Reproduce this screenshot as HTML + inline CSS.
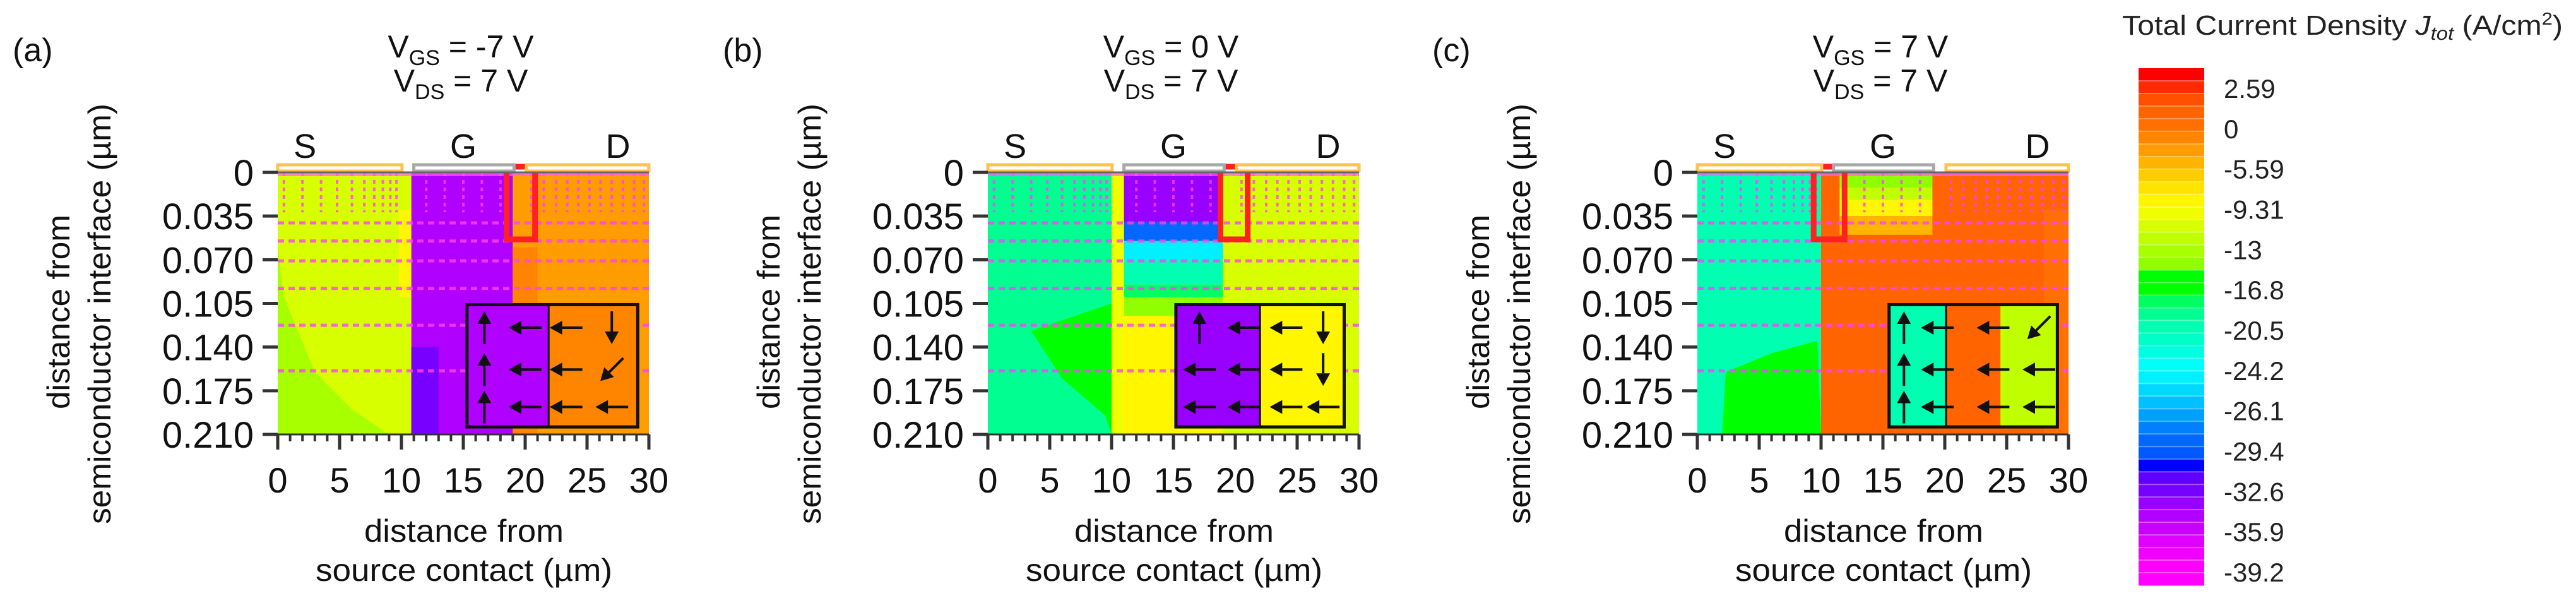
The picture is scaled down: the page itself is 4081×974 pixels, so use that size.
<!DOCTYPE html>
<html><head><meta charset="utf-8"><style>
html,body{margin:0;padding:0;background:#fff;}
svg{display:block;font-family:"Liberation Sans",Arial,sans-serif;}
</style></head><body>
<svg id="fig" width="4081" height="974" viewBox="0 0 4081 974" xmlns="http://www.w3.org/2000/svg"></svg>
<script>
// ---- data ----
const panelLetters = ["(a)", "(b)", "(c)"];
const vgsValues = ["-7", "0", "7"];
const vdsValues = ["7", "7", "7"];
const xTicks = [0, 5, 10, 15, 20, 25, 30];
const yTicks = [0, 0.035, 0.070, 0.105, 0.140, 0.175, 0.210];
const yTickLabels = ["0", "0.035", "0.070", "0.105", "0.140", "0.175", "0.210"];
const cbLabels = ["2.59", "0", "-5.59", "-9.31", "-13", "-16.8", "-20.5", "-24.2", "-26.1", "-29.4", "-32.6", "-35.9", "-39.2"];
const cbColors = ["#ff0000","#ff2a00","#ff5000","#ff6400","#ff7000","#ff8400","#ff9c00","#ffb400","#ffcc00","#ffe400","#fff600","#f0ff00","#d8ff00","#c0ff00","#a8ff00","#90ff00","#00ff00","#00ff00","#00ff60","#00ff90","#00ffb0","#00ffc8","#00ffe0","#00fff8","#00f0ff","#00d8ff","#00c0ff","#00a0ff","#0080ff","#0068ff","#0058ff","#0000ff","#6000ff","#7800ff","#9800ff","#b000ff","#c800ff","#e000ff","#f000ff","#ff00ff","#ff00ff"];
const vMax = 4.34, vMin = -40.35;
// region rects: [x0,x1,y0,y1,value]
const regionsA = [[0,10.8,0,0.21,-9.3],[9.8,10.8,0.03,0.1,-7.1],[10.8,19,0,0.21,-34.4],[10.8,13,0.14,0.21,-32.2],[19,30,0,0.21,-2.7],[19,21,0.06,0.21,-1.7]];
const polysA = [[[0,0.06,0.5,0.1,3,0.16,6,0.19,9,0.21,0,0.21],-11.5]];
const regionsB = [[0,10,0,0.21,-16.9],[10,11,0,0.21,-8.2],[11,19,0,0.21,-7.1],[11,19,0,0.04,-33.3],[11,19,0.04,0.055,-27.8],[11,19,0.055,0.07,-22.3],[11,19,0.07,0.09,-18.0],[11,19,0.09,0.1,-15.8],[11,19,0.1,0.115,-12.6],[19,30,0,0.21,-9.0]];
const polysB = [[[10,0.105,3.5,0.127,6,0.165,9.5,0.195,10,0.21],-13.5]];
const regionsC = [[0,10,0,0.21,-18.0],[10,30,0,0.21,0.5],[11.5,19,0,0.012,-12.6],[11.5,19,0.012,0.022,-10.4],[11.5,19,0.022,0.035,-7.1],[11.5,19,0.035,0.05,-3.8],[28,30,0.03,0.21,-0.6]];
const polysC = [[[2,0.21,2.3,0.16,6,0.145,9.7,0.135,10,0.21],-14.6]];
// inset parts: [x0,x1,value] spanning inset height
const insetA = [[15.3,21.9,-34.4],[21.9,29.1,-1.7]];
const insetB = [[15.2,22.0,-33.3],[22.0,28.8,-7.1]];
const insetC = [[15.5,20.1,-18.0],[20.1,24.5,0.5],[24.5,29.1,-10.4]];
const insetY = [0.106, 0.204];
// arrows: [x, y, direction]
const arrowsA = [[16.7,0.1245,"u"],[20,0.1245,"l"],[23.3,0.1245,"l"],[27,0.1245,"d"],[16.7,0.158,"u"],[20,0.158,"l"],[23.3,0.158,"l"],[27,0.158,"dl"],[16.7,0.188,"u"],[20,0.188,"l"],[23.3,0.188,"l"],[27,0.188,"l"]];
const arrowsB = [[17.1,0.1245,"u"],[20.7,0.1245,"l"],[24.1,0.1245,"l"],[27.1,0.1245,"d"],[17.1,0.158,"l"],[20.7,0.158,"l"],[24.1,0.158,"l"],[27.1,0.158,"d"],[17.1,0.188,"l"],[20.7,0.188,"l"],[24.1,0.188,"l"],[27.1,0.188,"l"]];
const arrowsC = [[16.7,0.1245,"u"],[19.4,0.1245,"l"],[23.9,0.1245,"l"],[27.6,0.1245,"dl"],[16.7,0.158,"u"],[19.4,0.158,"l"],[23.9,0.158,"l"],[27.6,0.158,"l"],[16.7,0.188,"u"],[19.4,0.188,"l"],[23.9,0.188,"l"],[27.6,0.188,"l"]];
const redBoxX = [[18.5,20.8],[18.8,21.0],[9.4,11.9]];
const hLines = [0.0405,0.055,0.0709,0.093,0.1225,0.159];
const topDotsX = [0.5,2,3.5,4.8,6,7,7.8,8.5,9.1,9.6,12,13.5,15,16.5,18,20.5,21.5,22.5,23.4,24.3,25.2,26.1,27,27.9,28.8,29.6];
const panelRegions = [regionsA, regionsB, regionsC];
const panelPolys = [polysA, polysB, polysC];
const panelInsets = [insetA, insetB, insetC];
const panelArrows = [arrowsA, arrowsB, arrowsC];
const panelLeft = [440, 1565, 2689];

// ---- drawing ----
const NS = "http://www.w3.org/2000/svg";
const svg = document.getElementById("fig");
function mk(tag, attrs, parent) {
  const e = document.createElementNS(NS, tag);
  for (const k in attrs) e.setAttribute(k, attrs[k]);
  (parent || svg).appendChild(e);
  return e;
}
function colorFor(v) {
  const bw = (vMax - vMin) / cbColors.length;
  let i = Math.floor((vMax - v) / bw);
  i = Math.max(0, Math.min(cbColors.length - 1, i));
  return cbColors[i];
}
const PW = 588, PT = 273, PH = 415;
function txt(x, y, s, size, anchor, parent, extra) {
  const t = mk("text", Object.assign({x: x, y: y, "font-size": size, "text-anchor": anchor || "start", fill: "#111"}, extra || {}), parent);
  t.textContent = s;
  return t;
}

panelLeft.forEach((L, p) => {
  const X = v => L + v * PW / 30;
  const Y = v => PT + v * PH / 0.21;
  const g = mk("g", {});
  
  

  const lab = txt(L - 420, 97, panelLetters[p], 52, "start", g);
  
  

  // title
  const cx = L + 290;
  const t1 = mk("text", {x: cx, y: 91, "font-size": 50, "text-anchor": "middle", fill: "#111"}, g);
  t1.innerHTML = 'V<tspan font-size="34" dy="12">GS</tspan><tspan dy="-12"> = ' + vgsValues[p] + ' V</tspan>';
  
  
  const t2 = mk("text", {x: cx, y: 145, "font-size": 50, "text-anchor": "middle", fill: "#111"}, g);
  t2.innerHTML = 'V<tspan font-size="34" dy="12">DS</tspan><tspan dy="-12"> = ' + vdsValues[p] + ' V</tspan>';
  
  

  // heatmap
  const hm = mk("g", {}, g);
  
  
  panelRegions[p].forEach(r => {
    const e = mk("rect", {x: X(r[0]), y: Y(r[2]), width: X(r[1]) - X(r[0]), height: Y(r[3]) - Y(r[2]), fill: colorFor(r[4])}, hm);
    
    
  });
  panelPolys[p].forEach(pl => {
    const pts = [];
    for (let i = 0; i < pl[0].length; i += 2) pts.push(X(pl[0][i]) + "," + Y(pl[0][i + 1]));
    const e = mk("polygon", {points: pts.join(" "), fill: colorFor(pl[1])}, hm);
    
    
  });
  // mesh artifacts
  hLines.forEach(h => {
    const e = mk("line", {x1: X(0), x2: X(30), y1: Y(h), y2: Y(h), stroke: "#ff40ff", "stroke-width": 5, "stroke-dasharray": "10 7", opacity: 0.8}, hm);
    
    
  });
  topDotsX.forEach(d => {
    const e = mk("line", {x1: X(d), x2: X(d), y1: Y(0), y2: Y(0.032), stroke: "#ff40ff", "stroke-width": 4, "stroke-dasharray": "6 6", opacity: 0.8}, hm);
    
    
  });
  const topBand = mk("rect", {x: X(0), y: Y(0), width: PW, height: 6, fill: "#ff60ff", opacity: 0.7}, hm);
  
  

  // inset
  const ins = mk("g", {}, g);
  
  
  const parts = panelInsets[p];
  parts.forEach(r => {
    const e = mk("rect", {x: X(r[0]), y: Y(insetY[0]), width: X(r[1]) - X(r[0]), height: Y(insetY[1]) - Y(insetY[0]), fill: colorFor(r[2])}, ins);
    
    
  });
  const ib = mk("rect", {x: X(parts[0][0]), y: Y(insetY[0]), width: X(parts[parts.length - 1][1]) - X(parts[0][0]), height: Y(insetY[1]) - Y(insetY[0]), fill: "none", stroke: "#111", "stroke-width": 5}, ins);
  
  
  const mid = mk("line", {x1: X(parts[1][0]), x2: X(parts[1][0]), y1: Y(insetY[0]), y2: Y(insetY[1]), stroke: "#111", "stroke-width": 3}, ins);
  
  
  panelArrows[p].forEach(a => {
    const x = X(a[0]), y = Y(a[1]);
    const dir = {u: [0, -1], d: [0, 1], l: [-1, 0], dl: [-0.7, 0.7]}[a[2]];
    const len = 52, hl = 20, hw = 11;
    const x0 = x - dir[0] * len / 2, y0 = y - dir[1] * len / 2;
    const x1 = x + dir[0] * len / 2, y1 = y + dir[1] * len / 2;
    const bx = x1 - dir[0] * hl, by = y1 - dir[1] * hl;
    const px = -dir[1], py = dir[0];
    const ag = mk("g", {}, ins);
    
    
    mk("line", {x1: x0, y1: y0, x2: bx, y2: by, stroke: "#111", "stroke-width": 4}, ag);
    mk("polygon", {points: x1 + "," + y1 + " " + (bx + px * hw) + "," + (by + py * hw) + " " + (bx - px * hw) + "," + (by - py * hw), fill: "#111"}, ag);
  });

  // red box
  const rb = mk("rect", {x: X(redBoxX[p][0]), y: 264, width: X(redBoxX[p][1]) - X(redBoxX[p][0]), height: 115, fill: "none", stroke: "#ff2020", "stroke-width": 9}, g);
  
  

  // contacts
  const contacts = [[0, 10.05, "#ffc24a", "S", 2.2], [11, 19.1, "#a8a8a8", "G", 15], [20.1, 30, "#ffc24a", "D", 27.5]];
  contacts.forEach(c => {
    const e = mk("rect", {x: X(c[0]), y: 261, width: X(c[1]) - X(c[0]), height: 10, fill: "#fff", stroke: c[2], "stroke-width": 5}, g);
    
    
    const t = txt(X(c[4]), 250, c[3], 54, "middle", g);
    
    
  });
  mk("line", {x1: X(0), x2: X(30), y1: PT, y2: PT, stroke: "#666", "stroke-width": 3}, g);

  // y axis
  yTicks.forEach((v, i) => {
    const e = mk("line", {x1: L - 24, x2: L, y1: Y(v), y2: Y(v), stroke: "#333", "stroke-width": 5}, g);
    
    
    const t = txt(L - 38, Y(v) + 21, yTickLabels[i], 58, "end", g);
    
    
  });
  // x axis
  mk("line", {x1: X(0), x2: X(30), y1: PT + PH, y2: PT + PH, stroke: "#333", "stroke-width": 3}, g);
  for (let m = 0; m <= 30; m++) {
    const major = m % 5 === 0;
    const e = mk("line", {x1: X(m), x2: X(m), y1: PT + PH, y2: PT + PH + (major ? 24 : 11), stroke: "#333", "stroke-width": major ? 5 : 4}, g);
    
    
  }
  xTicks.forEach(v => {
    const t = txt(X(v), 780, String(v), 56, "middle", g);
    
    
  });
  const xt1 = txt(L + 295, 858, "distance from", 50, "middle", g, {textLength: 316, lengthAdjust: "spacingAndGlyphs"});
  
  
  const xt2 = txt(L + 295, 920, "source contact (µm)", 50, "middle", g, {textLength: 470, lengthAdjust: "spacingAndGlyphs"});
  
  
  const yt1 = txt(0, 0, "distance from", 50, "middle", g, {transform: "translate(" + (L - 330) + ",494) rotate(-90)", textLength: 308, lengthAdjust: "spacingAndGlyphs"});
  
  
  const yt2 = txt(0, 0, "semiconductor interface (µm)", 50, "middle", g, {transform: "translate(" + (L - 265) + ",497) rotate(-90)", textLength: 666, lengthAdjust: "spacingAndGlyphs"});
  
  
});

// colorbar
const cb = mk("g", {});


const cbTop = 108, cbBot = 927, cbX = 3388, cbW = 104;
const bh = (cbBot - cbTop) / cbColors.length;
cbColors.forEach((c, i) => {
  const e = mk("rect", {x: cbX, y: cbTop + i * bh, width: cbW, height: bh + 0.5, fill: c}, cb);
  
  
  if (i > 0) mk("line", {x1: cbX, x2: cbX + cbW, y1: cbTop + i * bh, y2: cbTop + i * bh, stroke: "#fff", "stroke-width": 2, opacity: 0.35}, cb);
});
cbLabels.forEach((s, i) => {
  const y = 140 + i * (906 - 140) / (cbLabels.length - 1);
  const t = txt(3523, y + 15, s, 42, "start", cb, {fill: "#222"});
  
  
});
const ct = mk("text", {x: 3362, y: 55, "font-size": 44, fill: "#222", textLength: 698, lengthAdjust: "spacingAndGlyphs"}, cb);
ct.innerHTML = 'Total Current Density <tspan font-style="italic">J</tspan><tspan font-style="italic" font-size="30" dy="8">tot</tspan><tspan dy="-8"> (A/cm</tspan><tspan font-size="28" dy="-16">2</tspan><tspan dy="16">)</tspan>';


</script>
</body></html>
